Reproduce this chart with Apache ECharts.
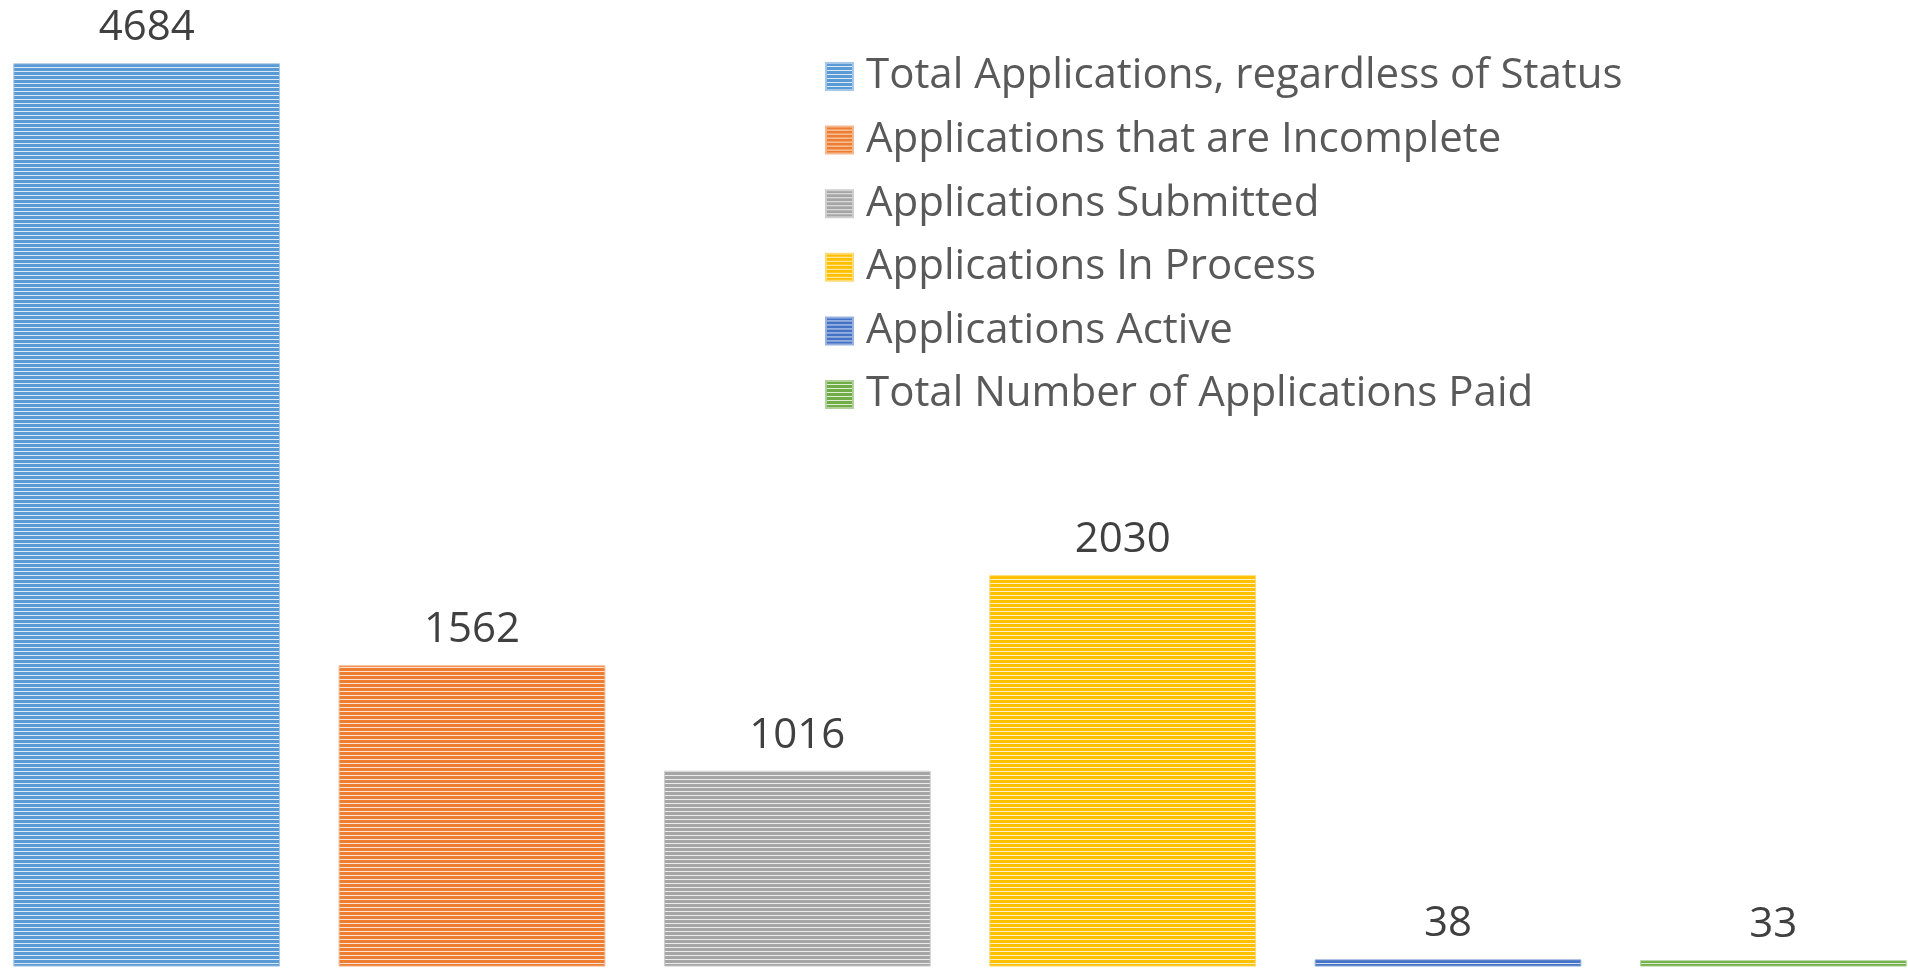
<!DOCTYPE html>
<html>
<head>
<meta charset="utf-8">
<script src="https://cdn.jsdelivr.net/npm/echarts@6/dist/echarts.min.js"></script>
<style>
html,body{margin:0;padding:0;background:#fff;overflow:hidden;width:1908px;height:968px;position:relative;}
#chart{position:absolute;left:-16px;top:0;width:1952px;height:968px;}
</style>
</head>
<body>
<div id="chart"></div>
<script>
const categories = [
  "Total Applications, regardless of Status",
  "Applications that are Incomplete",
  "Applications Submitted",
  "Applications In Process",
  "Applications Active",
  "Total Number of Applications Paid"
];
const values = [4684, 1562, 1016, 2030, 38, 33];
const colors = ["#5B9BD5", "#ED7D31", "#A5A5A5", "#FFC000", "#4472C4", "#70AD47"];
const yMax = 5000;

function mix(hex, t) {
  const n = parseInt(hex.slice(1), 16);
  const r = (n >> 16) & 255, g = (n >> 8) & 255, b = n & 255;
  const m = c => Math.round(c + (255 - c) * t);
  return "rgb(" + m(r) + "," + m(g) + "," + m(b) + ")";
}
function stripes(hex) {
  const c = document.createElement("canvas");
  c.width = 4; c.height = 4;
  const ctx = c.getContext("2d");
  ctx.fillStyle = hex;
  ctx.fillRect(0, 0, 4, 3);
  ctx.fillStyle = mix(hex, 0.78);
  ctx.fillRect(0, 3, 4, 1);
  return c;
}

const FONT = "'Open Sans', 'Noto Sans', sans-serif";
const chart = echarts.init(document.getElementById("chart"), null, {renderer: "canvas"});

const series = categories.map((name, i) => ({
  name: name,
  type: "bar",
  stack: "all",
  barCategoryGap: "18%",
  data: values.map((v, j) => (j === i ? v : null)),
  itemStyle: {
    color: {image: stripes(colors[i]), repeat: "repeat"},
    borderColor: mix(colors[i], 0.45),
    borderWidth: 1
  },
  label: {
    show: true,
    position: "top",
    distance: 14,
    color: "#404040",
    fontFamily: FONT,
    fontSize: 42
  },
  emphasis: {disabled: true}
}));

chart.setOption({
  animation: false,
  backgroundColor: "#ffffff",
  grid: {left: 0, right: 0, top: 2.3, bottom: 1.4, containLabel: false},
  xAxis: {
    type: "category",
    data: categories,
    show: false
  },
  yAxis: {
    type: "value",
    min: 0,
    max: yMax,
    show: false
  },
  legend: {
    orient: "vertical",
    left: 841,
    top: 55.5,
    padding: 0,
    itemWidth: 27,
    itemHeight: 27,
    itemGap: 21.6,
    icon: "rect",
    data: categories,
    textStyle: {
      color: "#595959",
      fontFamily: FONT,
      fontSize: 42,
      padding: [0, 0, 0, 8]
    }
  },
  series: series
});
</script>
</body>
</html>
